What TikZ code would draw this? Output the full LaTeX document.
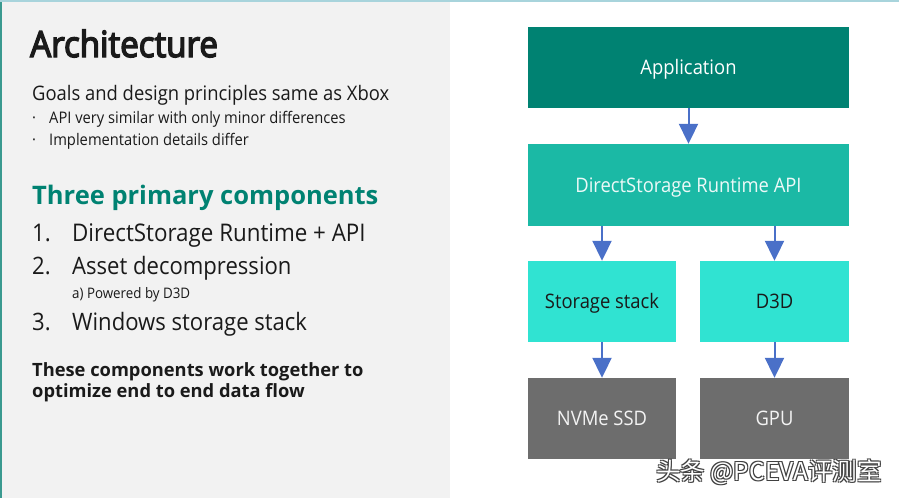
\documentclass[tikz,border=0pt]{standalone}
\usepackage{fontspec}
\setmainfont[FakeStretch=0.92]{Open Sans}
\newfontfamily\semib[FakeStretch=0.92,FakeBold=4]{Open Sans}
\newfontfamily\boldf[FakeStretch=1.0]{Open Sans}
\newfontfamily\cjk{Noto Sans CJK SC}
\usetikzlibrary{arrows.meta}
\definecolor{panelgray}{HTML}{F2F2F2}
\definecolor{edgeteal}{HTML}{3A9A90}
\definecolor{topline}{HTML}{A8D4DC}
\definecolor{appteal}{HTML}{008272}
\definecolor{apiteal}{HTML}{1BB9A5}
\definecolor{aqua}{HTML}{30E3D2}
\definecolor{hwgray}{HTML}{6D6D6D}
\definecolor{arrowblue}{HTML}{4A70C8}
\definecolor{headgreen}{HTML}{008272}
\definecolor{txt}{HTML}{1A1A1A}
\begin{document}
\begin{tikzpicture}[x=1pt,y=-1pt,
  boxstyle/.style={draw=none,minimum height=81pt,inner sep=0pt,text height=14pt,text depth=0pt,font=\fontsize{20}{22}\selectfont},
  flow/.style={draw=arrowblue,line width=2pt,-{Triangle[width=19pt,length=20pt]}},
  lefttext/.style={anchor=base west,inner sep=0pt,text=txt},
  wmshadow/.style={inner sep=0pt,text=black!75,font=\cjk\fontsize{24.5}{26}\selectfont},
  wmtext/.style={inner sep=0pt,text=white,font=\cjk\fontsize{24.5}{26}\selectfont}]
\useasboundingbox (0,0) rectangle (899,498);
\fill[white] (0,0) rectangle (899,498);
\fill[panelgray] (0,0) rectangle (450,498);
\fill[edgeteal] (0,0) rectangle (2,498);
\fill[topline] (0,0) rectangle (899,1.5);

% left text
\node[lefttext,font=\semib\fontsize{36}{40}\selectfont] (title) at (30,57) {Architecture};
\node[lefttext,font=\fontsize{20}{24}\selectfont] (goals) at (32,100) {Goals and design principles same as Xbox};
\node[lefttext,font=\fontsize{16}{18}\selectfont] (b1dot) at (32,123) {·};
\node[lefttext,font=\fontsize{16}{18}\selectfont] (b1) at (49,123) {API very similar with only minor differences};
\node[lefttext,font=\fontsize{16}{18}\selectfont] (b2dot) at (32,145) {·};
\node[lefttext,font=\fontsize{16}{18}\selectfont] (b2) at (49,145) {Implementation details differ};
\node[lefttext,text=headgreen,font=\boldf\bfseries\fontsize{25.5}{28}\selectfont] (head) at (32,204) {Three primary components};
\node[lefttext,font=\fontsize{24.3}{28}\selectfont] (n1) at (32,241) {1.};
\node[lefttext,font=\fontsize{24.3}{28}\selectfont] (i1) at (72,241) {DirectStorage Runtime + API};
\node[lefttext,font=\fontsize{24}{28}\selectfont] (n2) at (32,274) {2.};
\node[lefttext,font=\fontsize{24}{28}\selectfont] (i2) at (72,274) {Asset decompression};
\node[lefttext,font=\fontsize{14.5}{18}\selectfont] (i2a) at (72,298) {a) Powered by D3D};
\node[lefttext,font=\fontsize{24}{28}\selectfont] (n3) at (32,330) {3.};
\node[lefttext,font=\fontsize{24}{28}\selectfont] (i3) at (72,330) {Windows storage stack};
\node[lefttext,font=\boldf\bfseries\fontsize{18.3}{24}\selectfont] (c1) at (32,376) {These components work together to};
\node[lefttext,font=\boldf\bfseries\fontsize{18.3}{24}\selectfont] (c2) at (32,397) {optimize end to end data flow};

% boxes
\node[boxstyle,fill=appteal,text=white,minimum width=321pt] (app) at (688.5,67.5) {Application};
\node[boxstyle,fill=apiteal,text=white!92!apiteal,minimum width=321pt,minimum height=82pt] (api) at (688.5,185) {DirectStorage Runtime API};
\node[boxstyle,fill=aqua,text=txt,minimum width=148pt] (stor) at (602,301.5) {Storage stack};
\node[boxstyle,fill=aqua,text=txt,minimum width=149pt] (d3d) at (774.5,301.5) {D3D};
\node[boxstyle,fill=hwgray,text=white!92!hwgray,minimum width=148pt] (nvme) at (602,418.5) {NVMe SSD};
\node[boxstyle,fill=hwgray,text=white!92!hwgray,minimum width=149pt] (gpu) at (774.5,418.5) {GPU};

% arrows
\draw[flow] (app.south) -- (api.north);
\draw[flow] (api.south -| stor.north) -- (stor.north);
\draw[flow] (api.south -| d3d.north) -- (d3d.north);
\draw[flow] (stor.south) -- (nvme.north);
\draw[flow] (d3d.south) -- (gpu.north);

% watermark (white text with a dark outline)
\node[wmshadow] (wm1) at (770,473) {头条 @PCEVA评测室};
\node[wmshadow] (wm2) at (768,471) {头条 @PCEVA评测室};
\node[wmshadow] (wm3) at (770,471) {头条 @PCEVA评测室};
\node[wmshadow] (wm4) at (768,473) {头条 @PCEVA评测室};
\node[wmtext] (wm) at (769,472) {头条 @PCEVA评测室};
\end{tikzpicture}
\end{document}
